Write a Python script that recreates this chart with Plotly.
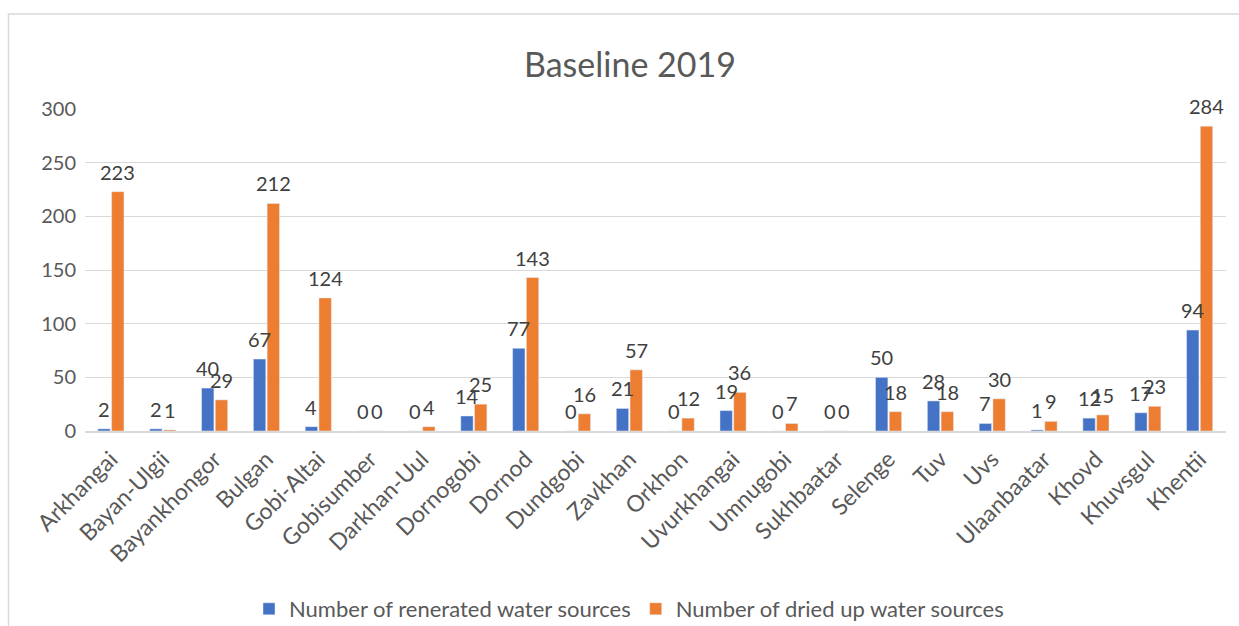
import plotly.graph_objects as go

categories = ["Arkhangai", "Bayan-Ulgii", "Bayankhongor", "Bulgan", "Gobi-Altai", "Gobisumber",
              "Darkhan-Uul", "Dornogobi", "Dornod", "Dundgobi", "Zavkhan", "Orkhon", "Uvurkhangai",
              "Umnugobi", "Sukhbaatar", "Selenge", "Tuv", "Uvs", "Ulaanbaatar", "Khovd", "Khuvsgul", "Khentii"]
regenerated = [2, 2, 40, 67, 4, 0, 0, 14, 77, 0, 21, 0, 19, 0, 0, 50, 28, 7, 1, 12, 17, 94]
dried_up = [223, 1, 29, 212, 124, 0, 4, 25, 143, 16, 57, 12, 36, 7, 0, 18, 18, 30, 9, 15, 23, 284]

series_names = ["Number of renerated water sources", "Number of dried up water sources"]
colors = ["#4472C4", "#ED7D31"]

W, H = 1239, 626
ML, MR, MT, MB = 85, 13, 109, 195
ph = H - MT - MB
pw = W - ML - MR
BARGAP, GROUPGAP = 0.47, 0.1
slot = pw / len(categories) * (1 - BARGAP) / 2  # px per bar slot
offsets = [-slot / 2, slot / 2]

fig = go.Figure()
annotations = []
for name, vals, col, off in zip(series_names, [regenerated, dried_up], colors, offsets):
    fig.add_trace(go.Bar(x=categories, y=vals, name=name, marker_color=col))
    for c, v in zip(categories, vals):
        annotations.append(dict(x=c, y=v, xref="x", yref="y", text=str(v), showarrow=False,
                                xshift=off, yshift=6, yanchor="bottom", xanchor="center",
                                font=dict(family="Lato", size=20, color="#404040")))

fig.update_layout(
    width=W, height=H,
    margin=dict(l=ML, r=MR, t=MT, b=MB, autoexpand=False),
    paper_bgcolor="white", plot_bgcolor="white",
    barmode="group", bargap=BARGAP, bargroupgap=GROUPGAP,
    title=dict(text="Baseline 2019", x=630 / W, xanchor="center", y=1 - 65 / H, yanchor="middle",
               font=dict(family="Lato", size=34, color="#595959")),
    font=dict(family="Lato", color="#595959"),
    showlegend=True,
    legend=dict(orientation="h", xref="container", x=629 / W, xanchor="center",
                yref="container", y=1 - 609 / H, yanchor="middle",
                font=dict(family="Lato", size=22, color="#595959"), traceorder="normal"),
    xaxis=dict(tickangle=-45, tickfont=dict(family="Lato", size=23, color="#595959"),
               showline=True, linecolor="#D9D9D9", linewidth=1.5, ticks="", showgrid=False,
               ticklabelstandoff=4),
    yaxis=dict(range=[0, 300], dtick=50, tickfont=dict(family="Lato", size=20, color="#595959"),
               showgrid=True, gridcolor="#D9D9D9", gridwidth=1.3, zeroline=False, ticks="",
               ticklabelstandoff=8),
    annotations=annotations,
    shapes=[dict(type="rect", xref="paper", yref="paper",
                 x0=(8.5 - ML) / pw, x1=1.1, y0=-1.0, y1=(H - MB - 14) / ph,
                 line=dict(color="#D9D9D9", width=1.5), fillcolor="rgba(0,0,0,0)", layer="below")],
)

fig.write_html("out.html", config={"displayModeBar": False},
               post_script="document.body.style.margin='0';document.body.style.overflow='hidden';")
